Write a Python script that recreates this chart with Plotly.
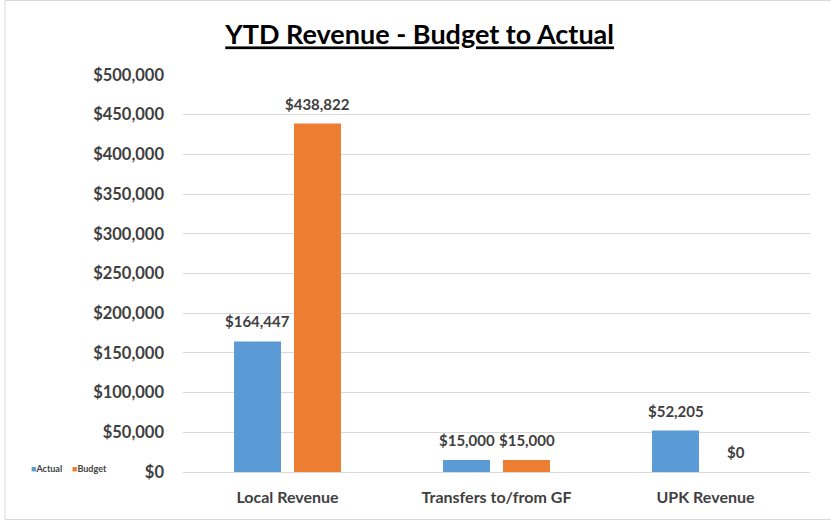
import plotly.graph_objects as go

categories = ["Local Revenue", "Transfers to/from GF", "UPK Revenue"]
actual = [164447, 15000, 52205]
budget = [438822, 15000, 0]
series_names = ["Actual", "Budget"]
tick_vals = [0, 50000, 100000, 150000, 200000, 250000, 300000, 350000, 400000, 450000, 500000]

colors = ["#5B9BD5", "#ED7D31"]
FONT = "Lato"
LABEL = "#404040"

fig = go.Figure()
for name, vals, c in zip(series_names, [actual, budget], colors):
    fig.add_trace(go.Bar(name=name, x=categories, y=vals, marker_color=c,
                         marker_line_width=0, showlegend=False))

# data labels
for vals, shift in [(actual, -30), (budget, 30)]:
    for cat, v in zip(categories, vals):
        fig.add_annotation(x=cat, y=v, xref="x", yref="y", text="${:,}".format(v),
                           showarrow=False, xshift=shift, yshift=20,
                           font=dict(family=FONT, size=15, color=LABEL, weight="bold"))

# compact legend (Excel style)
legend_x = [(29 - 183) / 627, (70 - 183) / 627]
for name, c, lx in zip(series_names, colors, legend_x):
    fig.add_annotation(xref="paper", yref="paper", x=lx, y=(472 - 468) / 397,
                       xanchor="left", yanchor="middle", showarrow=False,
                       text="<span style='color:%s;font-size:9px'>■</span>%s" % (c, name),
                       font=dict(family=FONT, size=9, color=LABEL, weight="bold"))

fig.update_layout(
    width=831, height=520,
    paper_bgcolor="white", plot_bgcolor="white",
    margin=dict(l=183, r=21, t=75, b=48, autoexpand=False),
    barmode="group", bargap=0.426, bargroupgap=0.217,
    showlegend=False,
    title=dict(text="<u>YTD Revenue - Budget to Actual</u>", x=0.505, xanchor="center",
               y=1 - 35 / 520, yanchor="middle",
               font=dict(family=FONT, size=27, color="black", weight="bold")),
    font=dict(family=FONT, color=LABEL),
    xaxis=dict(showgrid=False, showline=True, linecolor="#D9D9D9", linewidth=1,
               tickfont=dict(family=FONT, size=16, color=LABEL, weight="bold"),
               ticklabelstandoff=11, ticks="", automargin=False),
    yaxis=dict(range=[0, 500000], tickvals=tick_vals,
               ticktext=["${:,}".format(v) for v in tick_vals],
               showgrid=True, gridcolor="#D9D9D9", gridwidth=1, zeroline=False,
               tickfont=dict(family=FONT, size=16.5, color=LABEL, weight="bold"),
               ticklabelstandoff=18, ticks="", automargin=False),
    shapes=[dict(type="rect", xref="paper", yref="paper",
                 x0=(5 - 183) / 627, x1=(831 - 183 + 2) / 627,
                 y0=(472 - 519.5) / 397, y1=(472 - 0.5) / 397,
                 line=dict(color="#D9D9D9", width=1), layer="below")],
)

fig.write_html("out.html", config={"displayModeBar": False},
               post_script="document.body.style.margin='0';document.body.style.overflow='hidden';")
